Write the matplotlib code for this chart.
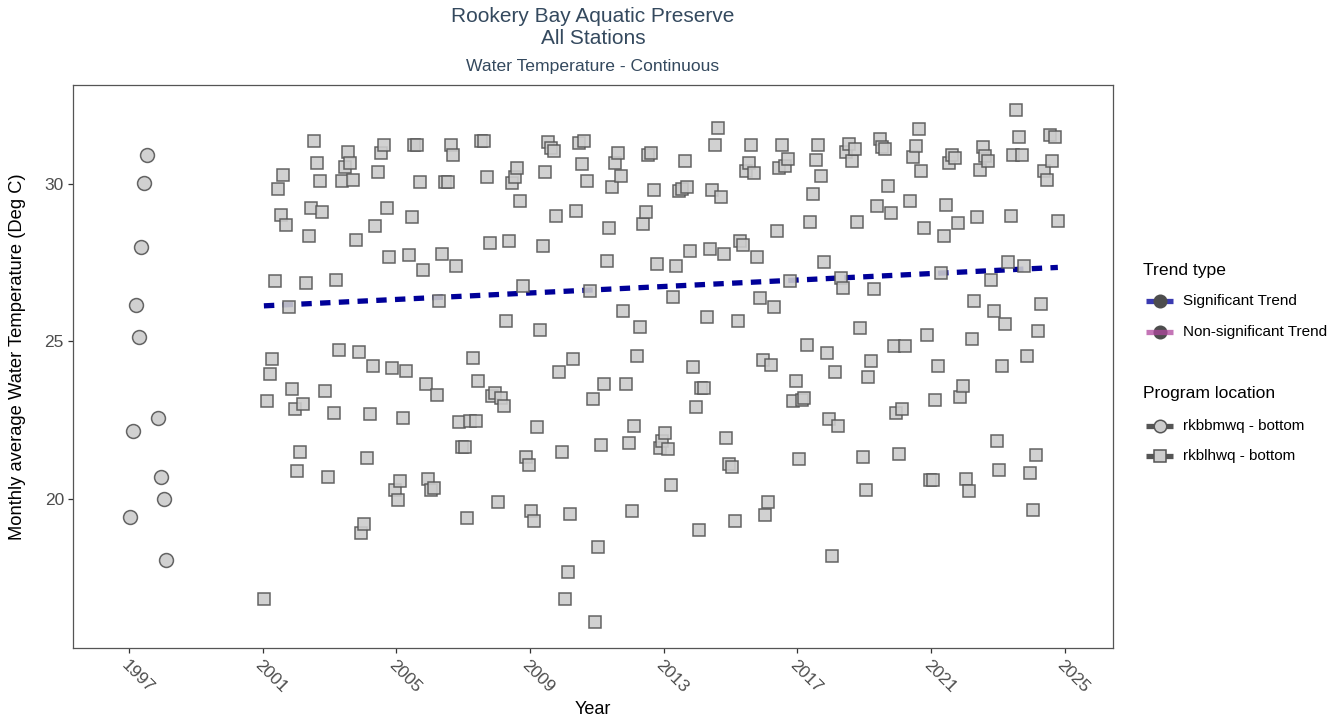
import matplotlib
matplotlib.use('Agg')
import matplotlib.pyplot as plt
from matplotlib.lines import Line2D
import numpy as np

plt.rcParams['font.family'] = ['Liberation Sans', 'DejaVu Sans']
plt.rcParams['lines.scale_dashes'] = False

# ---------------- data ----------------
# rkbbmwq - bottom (monthly averages)
bm_years = [1997, 1997, 1997, 1997, 1997, 1997, 1997, 1997, 1997, 1998, 1998]
bm_months = [1, 2, 3, 4, 5, 6, 7, 11, 12, 1, 2]
bm_temp = [19.44, 22.17, 26.16, 25.15, 27.99, 30.02, 30.92, 22.56, 20.70, 20.00, 18.06]

# rkblhwq - bottom, monthly averages starting January 2001 (None = no data)
lh_start_year = 2001
lh_temp = [
    16.84, 23.11, 23.96, 24.44, 26.91, 29.84, 29.02, 30.27, 28.70, 26.10, 23.49, 22.85,  # 2001
    20.89, 21.48, 23.03, 26.84, 28.36, 29.23, 31.35, 30.65, 30.10, 29.11, 23.43, 20.69,  # 2002
    None, 22.72, 26.96, 24.73, 30.10, 30.55, 31.02, 30.68, 30.14, 28.22, 24.67, 18.91,   # 2003
    19.19, 21.29, 22.69, 24.23, 28.68, 30.39, 30.99, 31.25, 29.25, 27.67, 24.15, 20.30,  # 2004
    19.97, 20.56, 22.57, 24.07, 27.74, 28.94, 31.22, 31.24, 30.06, 27.28, 23.66, 20.64,  # 2005
    20.30, 20.35, 23.29, 26.28, 27.79, 30.06, 30.05, 31.22, 30.92, 27.39, 22.45, 21.65,  # 2006
    21.66, 19.39, 22.48, 24.46, 22.48, 23.74, 31.36, 31.36, 30.22, 28.12, 23.28, 23.37,  # 2007
    19.90, 23.21, 22.94, 25.66, 28.19, 30.03, 30.22, 30.51, 29.46, 26.76, 21.32, 21.09,  # 2008
    19.62, 19.31, 22.28, 25.36, 28.04, 30.39, 31.33, 31.14, 31.05, 28.97, 24.03, 21.49,  # 2009
    16.82, 17.69, 19.51, 24.45, 29.15, 31.31, 30.63, 31.36, 30.10, 26.60, 23.17, 16.10,  # 2010
    18.46, 21.71, 23.66, 27.54, 28.61, 29.89, 30.65, 30.99, 30.24, 25.97, 23.65, 21.77,  # 2011
    19.62, 22.31, 24.54, 25.47, 28.74, 29.10, 30.91, 30.97, 29.82, 27.46, 21.63, 21.84,  # 2012
    22.09, 21.60, 20.44, 26.42, 27.39, 29.78, 29.83, 30.74, 29.90, 27.88, 24.19, 22.92,  # 2013
    19.00, 23.53, 23.51, 25.77, 27.92, 29.82, 31.24, 31.76, 29.57, 27.79, 21.95, 21.10,  # 2014
    21.03, 19.31, 25.64, 28.18, 28.06, 30.40, 30.67, 31.24, 30.34, 27.68, 26.37, 24.41,  # 2015
    19.48, 19.90, 24.24, 26.08, 28.49, 30.49, 31.24, 30.58, 30.80, 26.93, 23.10, 23.76,  # 2016
    21.28, 23.13, 23.22, 24.88, 28.78, 29.67, 30.77, 31.25, 30.25, 27.53, 24.62, 22.53,  # 2017
    18.20, 24.04, 22.33, 27.02, 26.71, 31.01, 31.27, 30.72, 31.12, 28.80, 25.42, 21.32,  # 2018
    20.30, 23.86, 24.39, 26.67, 29.31, 31.44, 31.16, 31.12, 29.95, 29.08, 24.86, 22.74,  # 2019
    21.42, 22.85, 24.86, None, 29.46, 30.87, 31.20, 31.75, 30.40, 28.60, 25.20, 20.59,   # 2020
    20.61, 23.13, 24.22, 27.16, 28.36, 29.32, 30.65, 30.93, 30.81, 28.75, 23.24, 23.60,  # 2021
    20.65, 20.26, 25.08, 26.28, 28.96, 30.45, 31.16, 30.90, 30.73, 26.94, 25.97, 21.83,  # 2022
    20.92, 24.21, 25.54, 27.51, 28.97, 30.93, 32.35, 31.50, 30.93, 27.38, 24.53, 20.81,  # 2023
    19.65, 21.39, 25.32, 26.18, 30.40, 30.11, 31.56, 30.72, 31.48, 28.83,                # 2024
]

# Significant trend line end points (decimal year, deg C)
trend_x = [2001.04, 2024.79]
trend_y = [26.13, 27.35]

x_ticks = [1997, 2001, 2005, 2009, 2013, 2017, 2021, 2025]
y_ticks = [20, 25, 30]

# ---------------- helpers ----------------
W, H = 1340, 723
def fx(px):
    return px / W
def fy(py):
    return 1 - py / H

bm_x = np.array([y + (m - 0.5) / 12 for y, m in zip(bm_years, bm_months)])
bm_y = np.array(bm_temp)

lh_x, lh_y = [], []
for i, v in enumerate(lh_temp):
    if v is None:
        continue
    yr = lh_start_year + i // 12
    m = i % 12 + 1
    lh_x.append(yr + (m - 0.5) / 12)
    lh_y.append(v)
lh_x = np.array(lh_x)
lh_y = np.array(lh_y)

# ---------------- figure ----------------
fig = plt.figure(figsize=(13.4, 7.23), dpi=100)
ax = fig.add_axes([fx(73), fy(648), (1113 - 73) / W, (648 - 85) / H])

fill_c = '#cccccc'
edge_c = '#555555'

ax.plot(trend_x, trend_y, color='#000099', lw=3.8, dashes=(7.5, 6),
        dash_capstyle='butt', zorder=2)

ax.plot(bm_x, bm_y, linestyle='none', marker='o', ms=10, mfc=fill_c,
        mec=edge_c, mew=1.1, alpha=0.9, zorder=3)
ax.plot(lh_x, lh_y, linestyle='none', marker='s', ms=9.2, mfc=fill_c,
        mec=edge_c, mew=1.1, alpha=0.9, zorder=3)

ax.set_xlim(1995.33, 2026.44)
ax.set_ylim(15.27, 33.14)
ax.set_xticks(x_ticks)
ax.set_yticks(y_ticks)
ax.set_xticklabels([str(t) for t in x_ticks])
ax.set_yticklabels([str(t) for t in y_ticks])

for sp in ax.spines.values():
    sp.set_color('#555555')
    sp.set_linewidth(0.9)

ax.tick_params(axis='both', which='major', length=3.5, width=0.9,
               color='#333333', labelsize=12.5, labelcolor='#4d4d4d')
ax.tick_params(axis='y', pad=3)
ax.tick_params(axis='x', pad=3)
for lab in ax.get_xticklabels():
    lab.set_rotation(-45)
    lab.set_ha('left')
    lab.set_va('top')
    lab.set_rotation_mode('anchor')

# axis titles
fig.text(fx(18), fy(357), 'Monthly average Water Temperature (Deg C)', rotation=90,
         ha='center', va='center', fontsize=13.2, color='black')
fig.text(fx(593), fy(710), 'Year', ha='center', va='center', fontsize=13, color='black')

# titles
title_c = '#34495e'
fig.text(fx(593), fy(17), 'Rookery Bay Aquatic Preserve', ha='center', va='center',
         fontsize=15, color=title_c)
fig.text(fx(593), fy(39), 'All Stations', ha='center', va='center',
         fontsize=15, color=title_c)
fig.text(fx(593), fy(66), 'Water Temperature - Continuous', ha='center', va='center',
         fontsize=12.6, color=title_c)

# ---------------- legends (manual) ----------------
def key(py, line_c, marker, mfc, mec, ms, circle_on_top=True, line_alpha=1.0):
    lx = [fx(1146), fx(1173)]
    ly = [fy(py), fy(py)]
    ln = Line2D(lx, ly, color=line_c, lw=3.8, alpha=line_alpha, solid_capstyle='butt',
                transform=fig.transFigure, zorder=2 if circle_on_top else 4)
    mk = Line2D([fx(1159.5)], [fy(py)], linestyle='none', marker=marker, ms=ms,
                mfc=mfc, mec=mec, mew=1.1, transform=fig.transFigure, zorder=3)
    fig.add_artist(ln)
    fig.add_artist(mk)

fig.text(fx(1143), fy(270), 'Trend type', ha='left', va='center', fontsize=12.6, color='black')
key(301, '#3a3ab0', 'o', '#4d4d4d', '#4d4d4d', 9, circle_on_top=True)
fig.text(fx(1183), fy(301), 'Significant Trend', ha='left', va='center', fontsize=11)
key(332, '#b0479e', 'o', '#4d4d4d', '#4d4d4d', 9, circle_on_top=False, line_alpha=0.75)
fig.text(fx(1183), fy(332), 'Non-significant Trend', ha='left', va='center', fontsize=11)

fig.text(fx(1143), fy(394), 'Program location', ha='left', va='center', fontsize=12.6, color='black')
key(426, '#555555', 'o', fill_c, edge_c, 9)
fig.text(fx(1183), fy(426), 'rkbbmwq - bottom', ha='left', va='center', fontsize=11)
key(456, '#555555', 's', fill_c, edge_c, 8.5)
fig.text(fx(1183), fy(456), 'rkblhwq - bottom', ha='left', va='center', fontsize=11)

fig.savefig('out.png', dpi=100)
